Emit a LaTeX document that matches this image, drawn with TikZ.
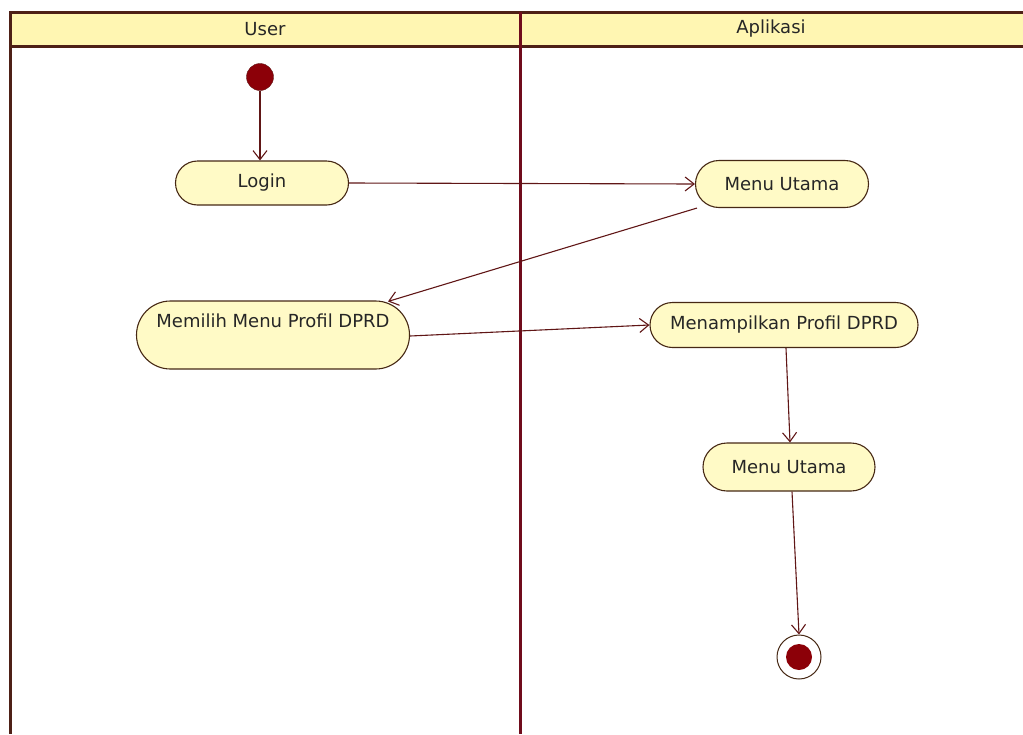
\documentclass[tikz,border=0pt]{standalone}
\usepackage{fontspec}
\setmainfont{DejaVu Sans}
\usetikzlibrary{arrows.meta,shapes.misc}
\definecolor{framecol}{RGB}{78,32,22}
\definecolor{lanecol}{RGB}{112,12,28}
\definecolor{headfill}{RGB}{255,246,178}
\definecolor{actfill}{RGB}{255,250,198}
\definecolor{actline}{RGB}{70,40,20}
\definecolor{flowcol}{RGB}{96,22,22}
\definecolor{dotfill}{RGB}{140,0,8}
\tikzset{
  lbl/.style={font=\fontsize{18}{20}\selectfont, text=black!85},
  act/.style={rounded rectangle, draw=actline, fill=actfill, line width=1.1pt,
    lbl, inner sep=0pt},
  flow/.style={draw=flowcol, line width=1.1pt, -{Straight Barb[length=9pt,width=14pt]}},
  lane/.style={line width=3pt}
}
\begin{document}
\begin{tikzpicture}[x=1pt,y=-1pt]
\useasboundingbox (0,0) rectangle (1023,734);
% swimlane header and frame
\fill[headfill] (10,12) rectangle (1023,46);
\draw[framecol, lane] (1023,12) -- (10,12) -- (10,734);
\draw[framecol, lane] (10,46) -- (1023,46);
\draw[lanecol, lane] (520,12) -- (520,734);
\node[lbl] (huser) at (265,29) {User};
\node[lbl] (happ) at (771,29) {Aplikasi};
% start and end
\node[circle, fill=dotfill, draw=flowcol, minimum size=27pt, inner sep=0pt] (start) at (260,77) {};
\node[circle, draw=actline, fill=white, line width=1pt, minimum size=44pt, inner sep=0pt] (stop) at (799,657) {};
\node[circle, fill=dotfill, minimum size=26pt, inner sep=0pt] (stopdot) at (799,657) {};
% activities
\node[act, minimum width=173pt, minimum height=44pt] (login) at (262,183) {Login};
\node[act, minimum width=173pt, minimum height=47pt] (menu1) at (782,184) {Menu Utama};
\node[act, minimum width=273pt, minimum height=68pt, text height=13pt, text depth=29pt, inner ysep=13pt] (pilih) at (273,335) {Memilih Menu Profil DPRD};
\node[act, minimum width=268pt, minimum height=45pt] (tampil) at (784,325) {Menampilkan Profil DPRD};
\node[act, minimum width=172pt, minimum height=48pt] (menu2) at (789,467) {Menu Utama};
% corner where the return flow leaves the first main menu
\coordinate (menu1out) at ([xshift=2pt]menu1.west |- menu1.south);
% flows
\draw[flow] (start) -- (login.north -| start);
\draw[flow] (login.east) -- (menu1.west);
\draw[flow] (menu1out) -- ([xshift=115pt,yshift=-1pt]pilih.north);
\draw[flow] ([yshift=-1pt]pilih.east) -- (tampil.west);
\draw[flow] ([xshift=2pt]tampil.south) -- ([xshift=1pt]menu2.north);
\draw[flow] ([xshift=3pt]menu2.south) -- (stop.north);
\end{tikzpicture}
\end{document}
